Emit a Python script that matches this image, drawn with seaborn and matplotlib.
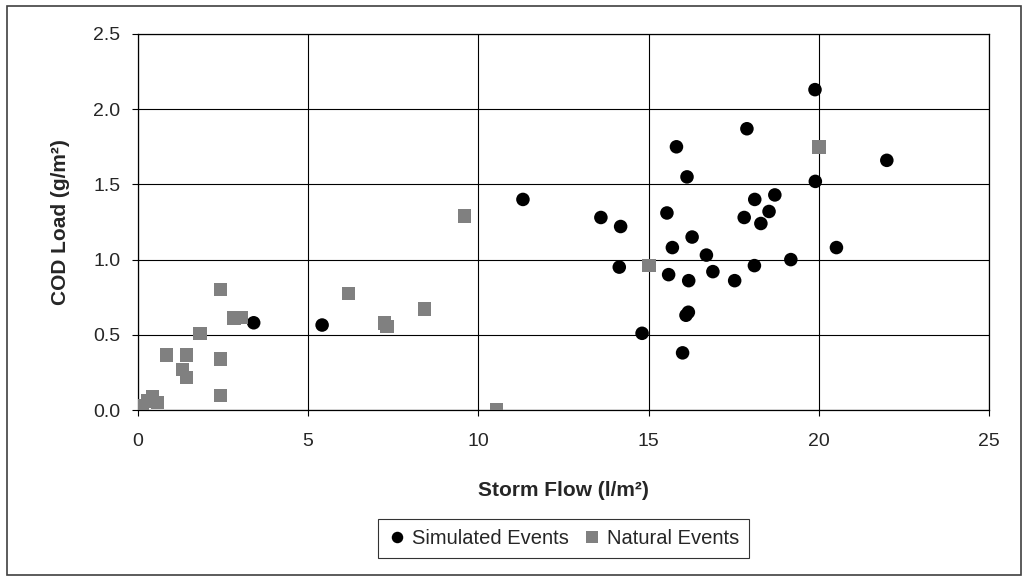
import matplotlib
matplotlib.use("Agg")
import matplotlib.pyplot as plt
import seaborn as sns
import pandas as pd
from matplotlib.patches import Rectangle

# Simulated events
sim_flow = [3.40, 5.41, 11.31, 13.60, 14.18, 14.14, 14.81, 15.82, 16.13, 15.54,
            15.70, 15.59, 16.28, 16.70, 16.18, 16.89, 16.17, 16.10, 16.00, 17.53,
            17.89, 17.81, 18.12, 18.30, 18.54, 18.71, 18.11, 19.18, 19.90, 20.52,
            19.89, 22.00]
sim_cod = [0.58, 0.565, 1.40, 1.28, 1.22, 0.95, 0.51, 1.75, 1.55, 1.31,
           1.08, 0.90, 1.15, 1.03, 0.86, 0.92, 0.65, 0.63, 0.38, 0.86,
           1.87, 1.28, 1.40, 1.24, 1.32, 1.43, 0.96, 1.00, 1.52, 1.08,
           2.13, 1.66]

# Natural events
nat_flow = [0.14, 0.28, 0.43, 0.57, 0.84, 1.31, 1.43, 1.43, 1.83, 2.43,
            2.43, 2.43, 2.82, 3.02, 6.18, 7.24, 7.31, 8.42, 9.59, 10.54,
            15.02, 20.00]
nat_cod = [0.03, 0.06, 0.09, 0.05, 0.365, 0.27, 0.365, 0.215, 0.51, 0.80,
           0.34, 0.095, 0.61, 0.615, 0.775, 0.58, 0.555, 0.67, 1.29, 0.00,
           0.96, 1.75]

x_ticks = [0, 5, 10, 15, 20, 25]
y_ticks = [0.0, 0.5, 1.0, 1.5, 2.0, 2.5]

df = pd.DataFrame({
    "flow": sim_flow + nat_flow,
    "cod": sim_cod + nat_cod,
    "event": ["Simulated Events"] * len(sim_flow) + ["Natural Events"] * len(nat_flow),
})

sns.set_style("white")
plt.rcParams["font.family"] = ["Liberation Sans", "DejaVu Sans"]

fig = plt.figure(figsize=(10.28, 5.81), dpi=100)
ax = fig.add_axes([0.1342, 0.2943, 0.962 - 0.1342, 0.9415 - 0.2943])

sns.scatterplot(data=df, x="flow", y="cod", hue="event", style="event",
                palette={"Simulated Events": "black", "Natural Events": "#808080"},
                markers={"Simulated Events": "o", "Natural Events": "s"},
                s=95, linewidth=0, ax=ax, zorder=3)

ax.set_xlim(0, 25)
ax.set_ylim(0, 2.5)
ax.set_xticks(x_ticks)
ax.set_yticks(y_ticks)
ax.set_xticklabels([str(t) for t in x_ticks])
ax.set_yticklabels([f"{t:.1f}" for t in y_ticks])
ax.grid(True, color="black", linewidth=0.8)
ax.set_axisbelow(True)
for sp in ax.spines.values():
    sp.set_color("black")
    sp.set_linewidth(0.9)
ax.tick_params(axis="both", direction="out", length=4.5, width=0.8, color="black",
               labelsize=14, left=True, bottom=True)
ax.tick_params(axis="x", pad=12)
ax.tick_params(axis="y", pad=8)

ax.set_xlabel("Storm Flow (l/m²)", fontsize=15, fontweight="bold")
ax.set_ylabel("COD Load (g/m²)", fontsize=15, fontweight="bold")
ax.xaxis.set_label_coords(0.5, -0.19)
ax.yaxis.set_label_coords(-0.08, 0.5)

sns.move_legend(ax, "upper center", bbox_to_anchor=(0.5, -0.29), ncol=2, title=None,
                frameon=True, fancybox=False, shadow=False, fontsize=14.5,
                handlelength=0.9, handletextpad=0.3, columnspacing=0.7,
                borderpad=0.5, markerscale=0.85, borderaxespad=0)
leg = ax.get_legend()
leg.get_frame().set_edgecolor("black")
leg.get_frame().set_linewidth(0.8)

# outer chart border
fig.patches.append(Rectangle((7 / 1028, 6 / 581), 1 - 14 / 1028, 1 - 12 / 581,
                             transform=fig.transFigure, fill=False,
                             edgecolor="#404040", linewidth=1.2))

fig.savefig("out.png", dpi=100)
